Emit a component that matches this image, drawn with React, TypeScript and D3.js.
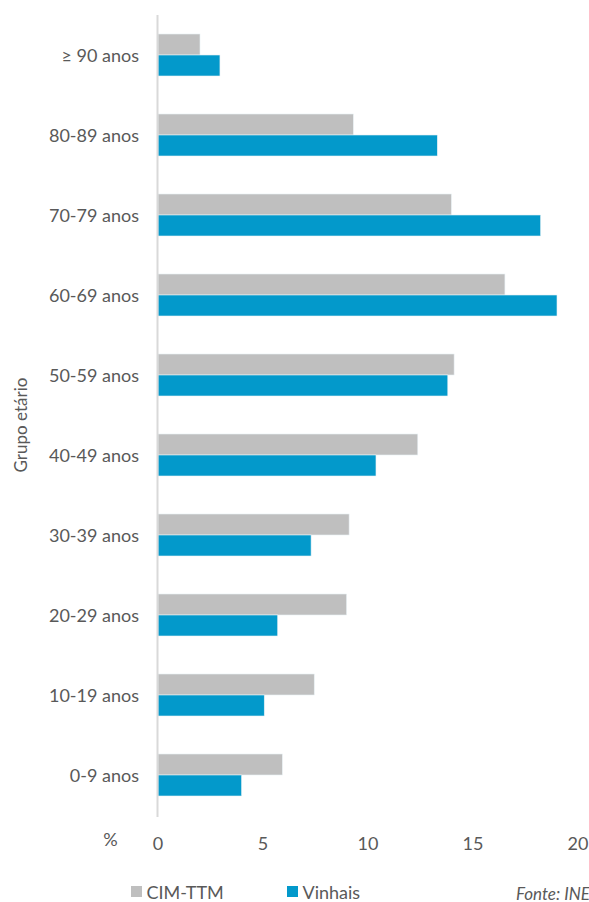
import React from "react";
import * as d3 from "d3";

const categories = ["≥ 90 anos", "80-89 anos", "70-79 anos", "60-69 anos", "50-59 anos", "40-49 anos", "30-39 anos", "20-29 anos", "10-19 anos", "0-9 anos"];
const seriesNames = ["CIM-TTM", "Vinhais"];
const cimTTM = [2.0, 9.3, 13.97, 16.52, 14.1, 12.37, 9.1, 8.98, 7.44, 5.92];
const vinhais = [2.95, 13.3, 18.22, 19.0, 13.8, 10.38, 7.29, 5.7, 5.06, 3.98];
const xTicks = [0, 5, 10, 15, 20];
const colors = ["#BFBFBF", "#0399CB"];

const W = 589;
const H = 902;
const FONT = "Lato, 'Open Sans', sans-serif";
const TXT = "#595959";

export default function App() {
  const x = d3.scaleLinear().domain([0, 20]).range([158, 578]);
  const y = d3.scaleBand<string>().domain(categories).range([15, 815]).paddingInner(0.475).paddingOuter(0.2375);
  const sub = d3.scaleBand<string>().domain(seriesNames).range([0, y.bandwidth()]);
  const series = [cimTTM, vinhais];

  return (
    <svg width={W} height={H} style={{ position: "absolute", left: 0, top: 0, background: "#fff" }} fontFamily={FONT}>
      <rect width={W} height={H} fill="#fff" />
      {series.map((vals, si) =>
        vals.map((v, i) => (
          <rect
            key={`${si}-${i}`}
            x={x(0)}
            y={(y(categories[i]) as number) + (sub(seriesNames[si]) as number)}
            width={x(v) - x(0)}
            height={sub.bandwidth()}
            fill={colors[si]}
            stroke="#e8f0f4"
            strokeWidth={0.6}
          />
        ))
      )}
      <line x1={x(0) - 0.5} x2={x(0) - 0.5} y1={15} y2={817} stroke="#D9D9D9" strokeWidth={2} />
      {categories.map((c) => (
        <text key={c} x={139} y={(y(c) as number) + y.bandwidth() / 2} textAnchor="end" dominantBaseline="central" fontSize={18} fill={TXT}>
          {c}
        </text>
      ))}
      {xTicks.map((t) => (
        <text key={t} x={x(t)} y={843} textAnchor="middle" dominantBaseline="central" fontSize={18} fill={TXT}>
          {t}
        </text>
      ))}
      <text x={110.5} y={839} textAnchor="middle" dominantBaseline="central" fontSize={18} fill={TXT}>%</text>
      <text transform="translate(20,425) rotate(-90)" textAnchor="middle" dominantBaseline="central" fontSize={17} fill={TXT}>
        Grupo etário
      </text>
      {seriesNames.map((s, i) => {
        const lx = i === 0 ? 131 : 287;
        return (
          <g key={s}>
            <rect x={lx} y={886} width={11} height={11} fill={colors[i]} />
            <text x={lx + 15.5} y={891.5} dominantBaseline="central" fontSize={18} fill={TXT}>{s}</text>
          </g>
        );
      })}
      <text x={516} y={900} fontSize={17} fontStyle="italic" fill={TXT}>Fonte: INE</text>
    </svg>
  );
}
